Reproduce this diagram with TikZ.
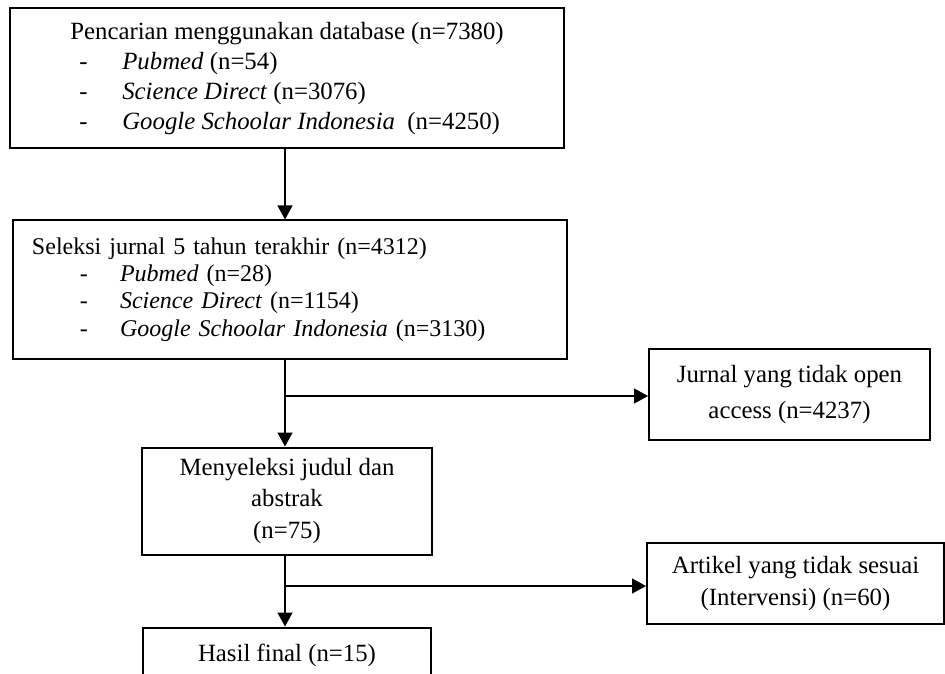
\documentclass[tikz,border=0pt]{standalone}
\usepackage{fontspec}
\setmainfont{Liberation Serif}
\usetikzlibrary{positioning,arrows.meta}

\tikzset{
  box/.style={rectangle, draw, line width=1pt, inner ysep=2pt},
  arrow/.style={-{Triangle[length=7pt,width=7.5pt]}, line width=0.7pt},
  link/.style={line width=0.7pt}
}

\begin{document}
\begin{tikzpicture}[x=0.5pt, y=-0.5pt, font=\fontsize{12.4}{15}\selectfont]
        \useasboundingbox (0,0) rectangle (945,673);
        \clip (0,0) rectangle (945,673);
        % main column
        \node[box, minimum width=277pt, minimum height=70pt, align=left] (search) at (287,78.5)
            {Pencarian menggunakan database (n=7380)\\
             \hspace*{4.5pt}\makebox[21.5pt][l]{-}\textit{Pubmed} (n=54)\\
             \hspace*{4.5pt}\makebox[21.5pt][l]{-}\textit{Science Direct} (n=3076)\\
             \hspace*{4.5pt}\makebox[21.5pt][l]{-}\textit{Google Schoolar Indonesia}\ \ (n=4250)};
        \node[box, below=35pt of search, xshift=1.5pt, minimum width=277pt, minimum height=69pt, inner xsep=9.5pt, text width=258pt, align=left, font=\fontsize{12}{13.7}\selectfont] (screen)
            {Seleksi jurnal 5 tahun terakhir (n=4312)\\
             \hspace*{24pt}\makebox[20pt][l]{-}\textit{Pubmed} (n=28)\\
             \hspace*{24pt}\makebox[20pt][l]{-}\textit{Science Direct} (n=1154)\\
             \hspace*{24pt}\makebox[20pt][l]{-}\textit{Google Schoolar Indonesia} (n=3130)};
        \node[box, below=43.5pt of screen, xshift=-1.5pt, minimum width=145pt, minimum height=53.5pt, align=center, font=\fontsize{12.4}{15.7}\selectfont] (title)
            {Menyeleksi judul dan\\abstrak\\(n=75)};
        \node[box, below=35.5pt of title, minimum width=144pt, minimum height=28pt, anchor=north, align=center] (final)
            {Hasil final (n=15)};
        % branches
        \coordinate (split1) at (285,396);
        \coordinate (split2) at (285,586);
        \node[box, right=181.5pt of split1, yshift=0.75pt, minimum width=140.5pt, minimum height=45.5pt, align=center, font=\fontsize{12.4}{18.3}\selectfont] (open)
            {Jurnal yang tidak open\\access (n=4237)};
        \node[box, right=180.5pt of split2, yshift=1.25pt, minimum width=148.5pt, minimum height=40.5pt, align=center, font=\fontsize{12.4}{16}\selectfont] (misfit)
            {Artikel yang tidak sesuai\\(Intervensi) (n=60)};
        % connectors
        \draw[arrow] (search.south -| split1) -- (screen.north -| split1);
        \draw[link] (screen.south -| split1) -- (split1);
        \draw[arrow] (split1) -- (title.north -| split1);
        \draw[arrow] (split1) -- (split1 -| open.west);
        \draw[link] (title.south -| split2) -- (split2);
        \draw[arrow] (split2) -- (final.north -| split2);
        \draw[arrow] (split2) -- (split2 -| misfit.west);
    \end{tikzpicture}
\end{document}
